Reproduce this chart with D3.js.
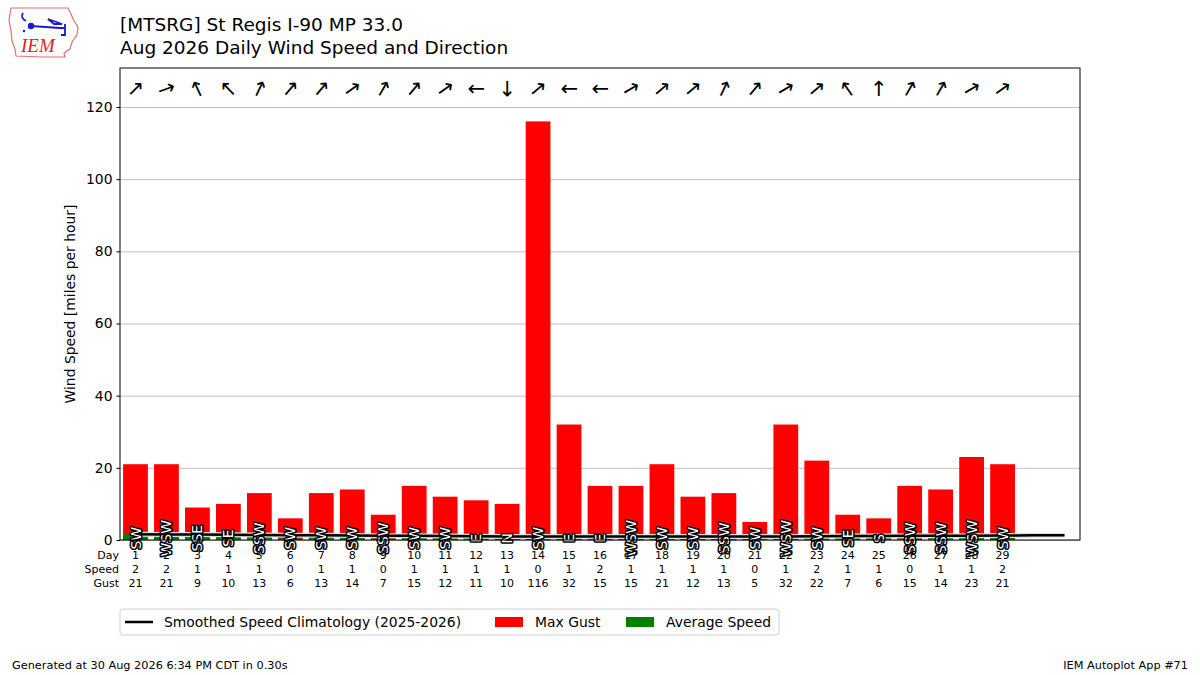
<!DOCTYPE html>
<html>
<head>
<meta charset="utf-8">
<script src="https://cdn.jsdelivr.net/npm/d3@7.9.0/dist/d3.min.js"></script>
<style>
  body { margin: 0; background: #fff; }
  svg text { font-family: "DejaVu Sans", sans-serif; }
</style>
</head>
<body>
<div id="chart"></div>
<script>
// Daily values, Aug 2026
const days = d3.range(1, 30);
const maxGust = [21, 21, 9, 10, 13, 6, 13, 14, 7, 15, 12, 11, 10, 116, 32, 15, 15, 21, 12, 13, 5, 32, 22, 7, 6, 15, 14, 23, 21];
const avgSpeed = [1.6, 1.6, 1.2, 1.1, 1.0, 0.4, 0.8, 0.7, 0.4, 0.6, 0.6, 0.6, 0.6, 0.4, 1.0, 1.6, 1.4, 1.4, 1.3, 1.1, 0.4, 0.9, 1.5, 1.0, 1.0, 0.4, 1.0, 1.0, 1.6];
const dirLabel = ["SW", "WSW", "SSE", "SE", "SSW", "SW", "SW", "SW", "SSW", "SW", "SW", "E", "N", "SW", "E", "E", "WSW", "SW", "SW", "SSW", "SW", "WSW", "SW", "SE", "S", "SSW", "SSW", "WSW", "SW"];
// direction wind is blowing from, degrees
const dirDeg = [225, 250, 155, 135, 205, 220, 220, 235, 210, 220, 235, 90, 0, 230, 90, 90, 240, 230, 230, 205, 220, 240, 230, 145, 180, 210, 210, 240, 235];
const climoDays = d3.range(1, 32);
const climoSpeed = [1.6, 1.55, 1.5, 1.45, 1.4, 1.35, 1.3, 1.25, 1.2, 1.15, 1.1, 1.05, 1.0, 1.0, 1.0, 1.0, 1.0, 1.0, 1.0, 1.0, 1.0, 1.0, 1.05, 1.1, 1.1, 1.15, 1.2, 1.2, 1.25, 1.3, 1.3];
const yTicks = [0, 20, 40, 60, 80, 100, 120];

const W = 1200, H = 675;
const margin = { top: 68, right: 120, bottom: 135, left: 120 };
const plotW = W - margin.left - margin.right;
const plotH = H - margin.top - margin.bottom;

const svg = d3.select("#chart").append("svg")
    .attr("width", W)
    .attr("height", H);

// logo (rough IEM mark)
const logo = svg.append("g").attr("transform", "translate(8,5)");
logo.append("path")
    .attr("d", "M3,3 L60,3 L63,9 L66,16 L70,22 L69,30 L64,37 L62,44 L56,48 L57,52 L34,52 L8,51 L7,44 L4,36 L3,26 L1,15 Z")
    .attr("fill", "none")
    .attr("stroke", "#e07070")
    .attr("stroke-width", 1.2);
logo.append("path")
    .attr("d", "M15,8 Q12,13 18,16 M23,21 L52,23 M40,14 L54,19 L46,19 Z M52,23 L57,23 M57,19 L57,30 L53,30")
    .attr("fill", "none")
    .attr("stroke", "#1a1acc")
    .attr("stroke-width", 1.8);
logo.append("circle").attr("cx", 23).attr("cy", 21).attr("r", 3.2).attr("fill", "#1a1acc");
logo.append("circle").attr("cx", 16).attr("cy", 26).attr("r", 1.2).attr("fill", "#1a1acc");
logo.append("text")
    .attr("x", 13).attr("y", 47)
    .style("font-family", "'Liberation Serif', serif")
    .style("font-style", "italic")
    .style("font-size", "19px")
    .attr("fill", "#dd2222")
    .text("IEM");

// titles
svg.append("text")
    .attr("x", 120).attr("y", 31)
    .style("font-size", "18.5px")
    .text("[MTSRG] St Regis I-90 MP 33.0");
svg.append("text")
    .attr("x", 120).attr("y", 54)
    .style("font-size", "18.5px")
    .text("Aug 2026 Daily Wind Speed and Direction");

const g = svg.append("g")
    .attr("transform", `translate(${margin.left},${margin.top})`);

const x = d3.scaleLinear().domain([0.5, 31.5]).range([0, plotW]);
const y = d3.scaleLinear().domain([0, 130.8]).range([plotH, 0]);
const barW = x(1.4) - x(0.6);

// grid
g.append("g")
    .attr("class", "grid")
    .call(d3.axisLeft(y).tickValues(yTicks).tickSize(-plotW).tickFormat(""))
    .call(s => s.select(".domain").remove())
    .call(s => s.selectAll("line").attr("stroke", "#b0b0b0").attr("stroke-width", 0.8));

// gust bars
g.selectAll(".gust")
    .data(days)
    .enter().append("rect")
    .attr("class", "gust")
    .attr("x", d => x(d) - barW / 2)
    .attr("y", (d, i) => y(maxGust[i]))
    .attr("width", barW)
    .attr("height", (d, i) => y(0) - y(maxGust[i]))
    .attr("fill", "red");

// average speed bars
g.selectAll(".avg")
    .data(days)
    .enter().append("rect")
    .attr("class", "avg")
    .attr("x", d => x(d) - barW / 2)
    .attr("y", (d, i) => y(avgSpeed[i]))
    .attr("width", barW)
    .attr("height", (d, i) => y(0) - y(avgSpeed[i]))
    .attr("fill", "green");

// climatology line
const line = d3.line()
    .x(d => x(d))
    .y((d, i) => y(climoSpeed[i]));
g.append("path")
    .datum(climoDays)
    .attr("d", line)
    .attr("fill", "none")
    .attr("stroke", "#ddd")
    .attr("stroke-width", 5);
g.append("path")
    .datum(climoDays)
    .attr("d", line)
    .attr("fill", "none")
    .attr("stroke", "black")
    .attr("stroke-width", 2.5);

// direction text labels
g.selectAll(".dirlab")
    .data(days)
    .enter().append("text")
    .attr("class", "dirlab")
    .attr("transform", d => `translate(${x(d)},${y(0.5)}) rotate(-90)`)
    .attr("text-anchor", "middle")
    .attr("dy", "0.36em")
    .style("font-size", "14px")
    .attr("fill", "white")
    .attr("stroke", "black")
    .attr("stroke-width", 3)
    .attr("paint-order", "stroke")
    .attr("stroke-linejoin", "round")
    .text((d, i) => dirLabel[i]);

// direction arrows along the top
g.selectAll(".arrow")
    .data(days)
    .enter().append("text")
    .attr("class", "arrow")
    .attr("transform", (d, i) => `translate(${x(d)},${y(125)}) rotate(${dirDeg[i] + 180})`)
    .attr("text-anchor", "middle")
    .attr("dy", "0.36em")
    .style("font-size", "21px")
    .text("↑");

// axes
g.append("g")
    .call(d3.axisLeft(y).tickValues(yTicks).tickSize(3.5).tickPadding(4))
    .call(s => s.select(".domain").remove())
    .call(s => s.selectAll("text").style("font-size", "13.9px").style("font-family", "DejaVu Sans"));

g.append("rect")
    .attr("width", plotW)
    .attr("height", plotH)
    .attr("fill", "none")
    .attr("stroke", "black")
    .attr("stroke-width", 1);

g.append("text")
    .attr("transform", "rotate(-90)")
    .attr("x", -plotH / 2)
    .attr("y", -45)
    .attr("text-anchor", "middle")
    .style("font-size", "13.9px")
    .text("Wind Speed [miles per hour]");

// table beneath the bars
const rows = [
    { name: "Day", vals: days.map(d => d) },
    { name: "Speed", vals: avgSpeed.map(v => d3.format(".0f")(v)) },
    { name: "Gust", vals: maxGust }
];
rows.forEach((r, k) => {
    const ty = plotH + 19 + k * 14;
    g.append("text")
        .attr("x", -1).attr("y", ty)
        .attr("text-anchor", "end")
        .style("font-size", "11px")
        .text(r.name);
    g.selectAll(".row" + k)
        .data(days)
        .enter().append("text")
        .attr("x", d => x(d))
        .attr("y", ty)
        .attr("text-anchor", "middle")
        .style("font-size", "11px")
        .text((d, i) => r.vals[i]);
});

// legend
const leg = svg.append("g").attr("transform", "translate(120,609)");
leg.append("rect")
    .attr("width", 659).attr("height", 26)
    .attr("rx", 3)
    .attr("fill", "white")
    .attr("stroke", "#d0d0d0");
leg.append("line")
    .attr("x1", 5).attr("x2", 33).attr("y1", 13).attr("y2", 13)
    .attr("stroke", "black").attr("stroke-width", 2.5);
leg.append("text").attr("x", 44).attr("y", 18).style("font-size", "13.9px")
    .text("Smoothed Speed Climatology (2025-2026)");
leg.append("rect").attr("x", 375).attr("y", 8).attr("width", 28).attr("height", 10).attr("fill", "red");
leg.append("text").attr("x", 415).attr("y", 18).style("font-size", "13.9px").text("Max Gust");
leg.append("rect").attr("x", 506).attr("y", 8).attr("width", 28).attr("height", 10).attr("fill", "green");
leg.append("text").attr("x", 546).attr("y", 18).style("font-size", "13.9px").text("Average Speed");

// footer
svg.append("text")
    .attr("x", 12).attr("y", 669)
    .style("font-size", "11.3px")
    .text("Generated at 30 Aug 2026 6:34 PM CDT in 0.30s");
svg.append("text")
    .attr("x", 1188).attr("y", 669)
    .attr("text-anchor", "end")
    .style("font-size", "11.3px")
    .text("IEM Autoplot App #71");
</script>
</body>
</html>
